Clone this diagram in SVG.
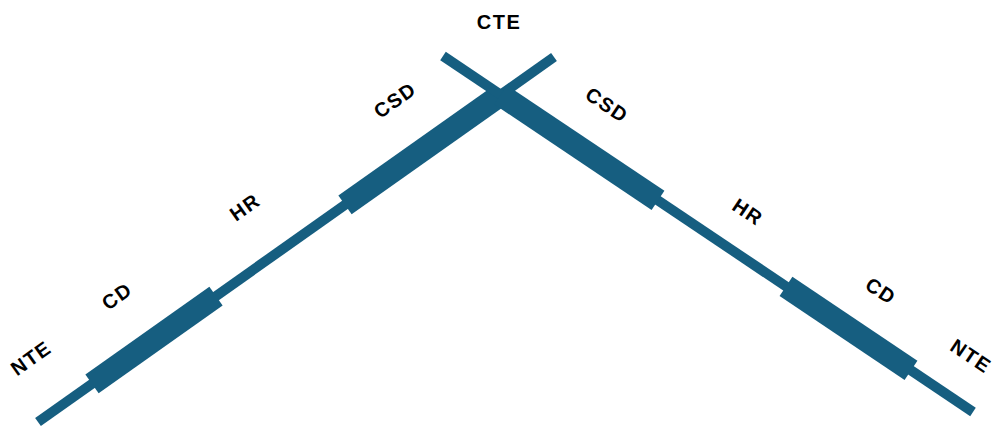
<svg xmlns="http://www.w3.org/2000/svg" width="994" height="429" viewBox="0 0 994 429">
  <style>
    .bar { stroke: #165e80; stroke-linecap: butt; fill: none; }
    .thin { stroke-width: 10; }
    .thick { stroke-width: 23; }
    .lbl { font-family: "Liberation Sans", Arial, sans-serif; font-weight: bold; font-size: 20px; letter-spacing: 1.5px; fill: #000; text-anchor: middle; dominant-baseline: central; }
  </style>
  <rect width="994" height="429" fill="#ffffff"/>

  <g id="connectors">
    <!-- left arm -->
    <line class="bar thin" x1="38" y1="422" x2="554" y2="57"/>
    <line class="bar thick" x1="92" y1="383.8" x2="216" y2="296.1"/>
    <line class="bar thick" x1="345" y1="204.8" x2="500.6" y2="94.8"/>
    <!-- right arm -->
    <line class="bar thin" x1="443" y1="56" x2="973" y2="412"/>
    <line class="bar thick" x1="500.6" y1="94.8" x2="658" y2="200.4"/>
    <line class="bar thick" x1="786" y1="286.4" x2="911" y2="370.4"/>
  </g>

  <g id="cte"><text class="lbl" x="499" y="22">CTE</text></g>

  <g id="left-csd"><text class="lbl" transform="translate(395,100) rotate(-35.3)">CSD</text></g>
  <g id="left-hr"><text class="lbl" transform="translate(245,207) rotate(-35.3)">HR</text></g>
  <g id="left-cd"><text class="lbl" transform="translate(117,296) rotate(-35.3)">CD</text></g>
  <g id="left-nte"><text class="lbl" transform="translate(31,358) rotate(-35.3)">NTE</text></g>

  <g id="right-csd"><text class="lbl" transform="translate(607,105) rotate(33.9)">CSD</text></g>
  <g id="right-hr"><text class="lbl" transform="translate(748,212) rotate(33.9)">HR</text></g>
  <g id="right-cd"><text class="lbl" transform="translate(881,291) rotate(33.9)">CD</text></g>
  <g id="right-nte"><text class="lbl" transform="translate(971,356) rotate(33.9)">NTE</text></g>
</svg>
